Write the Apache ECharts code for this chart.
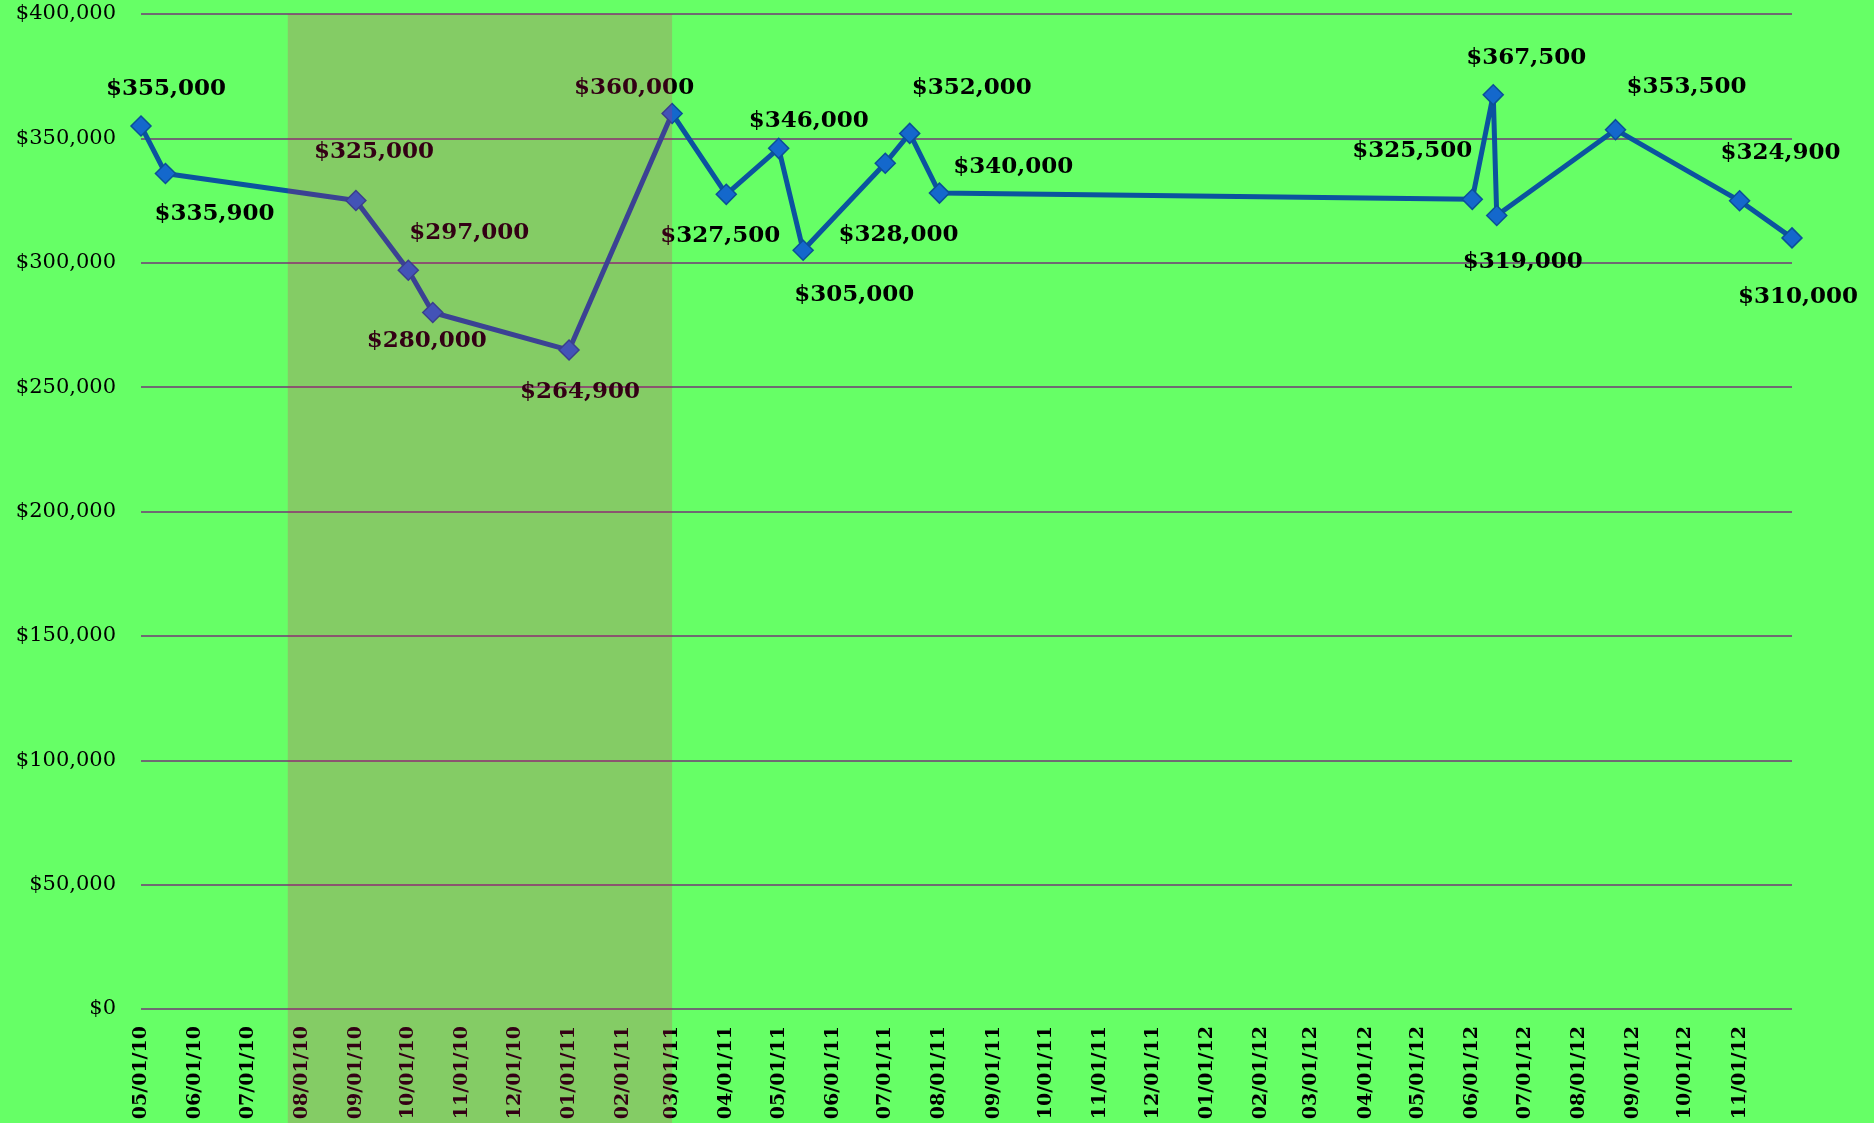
<!DOCTYPE html>
<html>
<head>
<meta charset="utf-8">
<script src="https://cdn.jsdelivr.net/npm/echarts@6/dist/echarts.min.js"></script>
<style>
html,body{margin:0;padding:0;background:#66FF66;}
#main{width:1874px;height:1123px;}
</style>
</head>
<body>
<div id="main"></div>
<script>
// sale dates and prices
var dates = ['2010-05-01','2010-05-15','2010-09-01','2010-10-01','2010-10-15','2011-01-01',
  '2011-03-01','2011-04-01','2011-05-01','2011-05-15','2011-07-01','2011-07-15','2011-08-01',
  '2012-06-01','2012-06-13','2012-06-15','2012-08-22','2012-11-01','2012-12-01'];
var prices = [355000,335900,325000,297000,280000,264900,
  360000,327500,346000,305000,340000,352000,328000,
  325500,367500,319000,353500,324900,310000];
// where each price label sits relative to its point
var labelOffsets = [[25,-37],[49,41],[18,-49],[61,-37],[-6,29],[11,42],
  [-38,-25],[-6,42],[30,-27],[51,45],[128,4],[62,-45],[-41,42],
  [-60,-48],[33,-37],[26,47],[71,-43],[41,-48],[6,59]];
var shadeStart = '2010-07-24';
var shadeEnd = '2011-03-01';
var axisStart = '2010-05-01';
var axisEnd = '2012-12-01';

function money(v){
    return '$' + Number(v).toLocaleString('en-US');
}

var myChart = echarts.init(document.getElementById('main'));
var serif = '"DejaVu Serif", "Liberation Serif", serif';
var endTime = echarts.time.parse(axisEnd).getTime();

var lineData = [];
for (var i = 0; i < dates.length; i++) {
    lineData.push({
        value: [dates[i], prices[i]],
        label: {offset: labelOffsets[i]}
    });
}

var option = {
    backgroundColor: '#66FF66',
    animation: false,
    grid: [
        {left: 141, right: 82, top: 14, bottom: 114, outerBoundsMode: 'none'},
        {left: 141, right: 82, top: 14, bottom: 0, outerBoundsMode: 'none'}
    ],
    xAxis: [{
        type: 'time',
        gridIndex: 0,
        min: axisStart,
        max: axisEnd,
        minInterval: 28 * 86400000,
        maxInterval: 31 * 86400000,
        axisLine: {show: false},
        axisTick: {show: false},
        splitLine: {show: false},
        axisLabel: {
            rotate: 90,
            interval: 0,
            margin: 17,
            hideOverlap: false,
            formatter: function (v) {
                // last month is not labelled
                if (v >= endTime) return '';
                return echarts.time.format(v, '{MM}/{dd}/{yy}', false);
            },
            color: '#000',
            fontFamily: serif,
            fontWeight: 'bold',
            fontSize: 19
        }
    }, {
        type: 'time',
        gridIndex: 1,
        min: axisStart,
        max: axisEnd,
        show: false
    }],
    yAxis: [{
        type: 'value',
        gridIndex: 0,
        min: 0,
        max: 400000,
        interval: 50000,
        axisLine: {show: false},
        axisTick: {show: false},
        splitLine: {lineStyle: {color: '#6F6A72', width: 2}},
        axisLabel: {
            margin: 25,
            color: '#000',
            fontFamily: serif,
            fontSize: 21,
            formatter: money
        }
    }, {
        type: 'value',
        gridIndex: 1,
        min: 0,
        max: 1,
        show: false
    }],
    series: [{
        name: 'price',
        type: 'line',
        xAxisIndex: 0,
        yAxisIndex: 0,
        z: 2,
        data: lineData,
        symbol: 'diamond',
        symbolSize: 20,
        lineStyle: {color: '#0B539F', width: 5},
        itemStyle: {color: '#1468CC', borderColor: '#0B4F98', borderWidth: 1.5},
        label: {
            show: true,
            position: 'inside',
            color: '#000',
            fontFamily: serif,
            fontWeight: 'bold',
            fontSize: 23,
            formatter: function (p) { return money(p.value[1]); }
        }
    }, {
        // tinted band over the whole height, drawn above everything
        name: 'shade',
        type: 'line',
        xAxisIndex: 1,
        yAxisIndex: 1,
        z: 50,
        silent: true,
        symbol: 'none',
        data: [],
        markArea: {
            silent: true,
            z: 50,
            itemStyle: {color: 'rgba(255,0,102,0.2)'},
            data: [[{xAxis: shadeStart, yAxis: 0}, {xAxis: shadeEnd, yAxis: 1}]]
        }
    }]
};

myChart.setOption(option);
</script>
</body>
</html>
